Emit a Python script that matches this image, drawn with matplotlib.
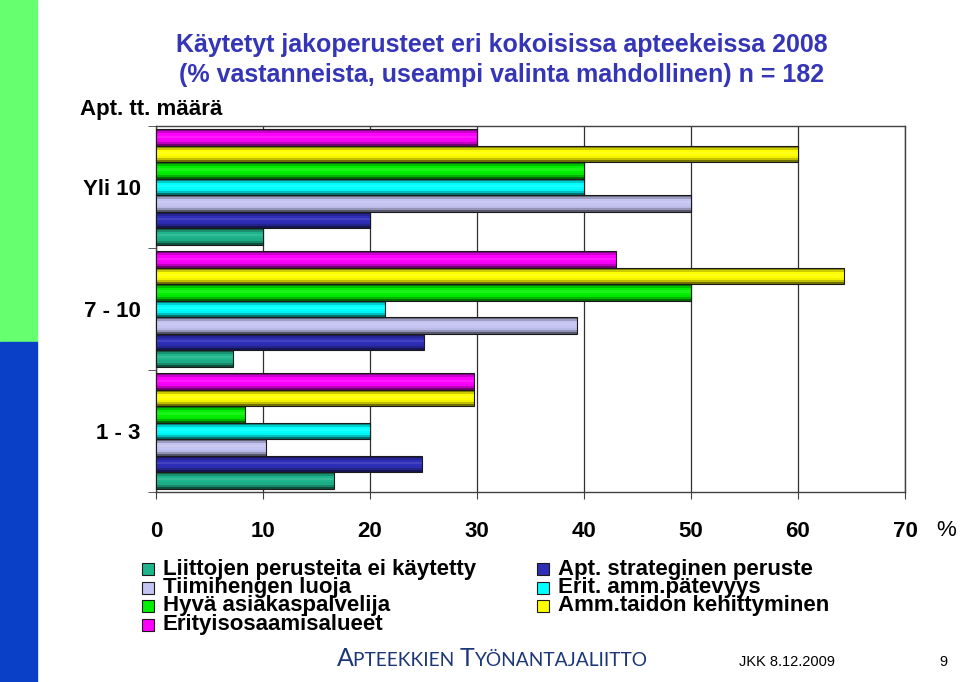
import numpy as np
import matplotlib
matplotlib.use("Agg")
import matplotlib.pyplot as plt
from matplotlib.patches import Rectangle
from matplotlib.offsetbox import TextArea, HPacker, AnnotationBbox
from matplotlib.colors import to_rgb

plt.rcParams['font.family'] = ['Liberation Sans', 'DejaVu Sans']

# Data (percent of respondents)
categories = ["1 - 3", "7 - 10", "Yli 10"]
series_names = [
    "Liittojen perusteita ei käytetty",
    "Apt. strateginen peruste",
    "Tiimihengen luoja",
    "Erit. amm.pätevyys",
    "Hyvä asiakaspalvelija",
    "Amm.taidon kehittyminen",
    "Erityisosaamisalueet",
]
liittojen = [16.6, 7.2, 10]
strateginen = [24.9, 25.0, 20]
tiimihenki = [10.3, 39.3, 50]
erit_amm = [20.0, 21.4, 40]
asiakaspalvelu = [8.3, 50.0, 40]
ammtaito = [29.7, 64.3, 60]
erityisosaaminen = [29.7, 43.0, 30]
series_values = [liittojen, strateginen, tiimihenki, erit_amm,
                 asiakaspalvelu, ammtaito, erityisosaaminen]
colors = ["#1FB58C", "#2E2EB8", "#C4C4F2", "#00FFFF", "#00F000",
          "#FFFF00", "#FF00FF"]
x_ticks = [0, 10, 20, 30, 40, 50, 60, 70]

W, H = 960, 682
fig = plt.figure(figsize=(W / 100, H / 100), dpi=100)


def fx(x):
    return x / W


def fy(y):
    return 1 - y / H


def shade(c, f):
    r, g, b = to_rgb(c)
    if f <= 1:
        return (r * f, g * f, b * f)
    t = f - 1
    return (r + (1 - r) * t, g + (1 - g) * t, b + (1 - b) * t)


# band brightness from bottom to top of a bar (cylinder look)
bands = [0.45, 0.75, 0.95, 1.0, 1.1, 1.0, 0.8, 0.55]

# left stripe
fig.patches.append(Rectangle((0, fy(342)), fx(37), 1 - fy(342), color="#66FF70",
                             transform=fig.transFigure, zorder=0))
fig.patches.append(Rectangle((0, 0), fx(37), fy(342), color="#0A40C8",
                             transform=fig.transFigure, zorder=0))

ax = fig.add_axes([fx(156), fy(492), fx(905) - fx(156), fy(126) - fy(492)])

y = np.arange(len(categories))
h = 0.135
for i, (vals, c) in enumerate(zip(series_values, colors)):
    yc = y + (i - 3) * h
    nb = len(bands)
    for k, f in enumerate(bands):
        ax.barh(yc - h / 2 + (k + 0.5) * h / nb, vals, height=h / nb,
                color=shade(c, f), linewidth=0, zorder=3)
    ax.barh(yc, vals, height=h, facecolor="none", edgecolor="#1a1a1a",
            linewidth=0.8, zorder=4)

ax.set_xlim(0, 70)
ax.set_ylim(-0.5, 2.5)
ax.set_xticks(x_ticks)
ax.set_xticklabels([str(t) for t in x_ticks], fontsize=16, fontweight="bold")
ax.set_yticks(y)
ax.set_yticklabels(categories, fontsize=16, fontweight="bold")
ax.set_yticks([-0.5, 0.5, 1.5, 2.5], minor=True)
ax.tick_params(axis="y", which="major", length=0, pad=11)
ax.tick_params(axis="y", which="minor", length=6, direction="out", color="#404040")
ax.tick_params(axis="x", length=5, direction="out", pad=16, color="#404040")
ax.grid(axis="x", color="#303030", linewidth=0.9, zorder=1)
for s in ax.spines.values():
    s.set_color("#404040")
    s.set_linewidth(1.0)

# titles
title_color = "#3535B8"
fig.text(fx(502), fy(45), "Käytetyt jakoperusteet eri kokoisissa apteekeissa 2008",
         ha="center", va="center", fontsize=18, fontweight="bold", color=title_color)
fig.text(fx(502), fy(75), "(% vastanneista, useampi valinta mahdollinen) n = 182",
         ha="center", va="center", fontsize=18, fontweight="bold", color=title_color)
fig.text(fx(80), fy(110), "Apt. tt. määrä", ha="left", va="center",
         fontsize=16, fontweight="bold")
fig.text(fx(936), fy(530), "%", ha="left", va="center", fontsize=16)

# legend (two columns, row-wise order)
col_x = [142, 537]
row_y = [569, 587.5, 606, 624.5]
for i, (name, c) in enumerate(zip(series_names, colors)):
    col = i % 2
    row = i // 2
    mx, my = col_x[col], row_y[row]
    fig.patches.append(Rectangle((fx(mx), fy(my + 6)), fx(12), fy(my - 6) - fy(my + 6),
                                 facecolor=c, edgecolor="#1a1a1a", linewidth=0.8,
                                 transform=fig.transFigure))
    fig.text(fx(mx + 21), fy(my), name, ha="left", va="center",
             fontsize=16, fontweight="bold")

# footer
logo_color = "#1C3778"
big = dict(fontsize=18, color=logo_color, family="Lato")
small = dict(fontsize=13.8, color=logo_color, family="Lato")
logo = HPacker(children=[TextArea("A", textprops=big),
                         TextArea("PTEEKKIEN ", textprops=small),
                         TextArea("T", textprops=big),
                         TextArea("YÖNANTAJALIITTO", textprops=small)],
               align="baseline", pad=0, sep=0)
ab = AnnotationBbox(logo, (fx(492), fy(659)), xycoords="figure fraction",
                    frameon=False, box_alignment=(0.5, 0.5))
fig.add_artist(ab)
fig.text(fx(787), fy(662), "JKK 8.12.2009", ha="center", va="center", fontsize=10.5)
fig.text(fx(943), fy(662), "9", ha="center", va="center", fontsize=10.5)

fig.savefig("out.png", dpi=100)
